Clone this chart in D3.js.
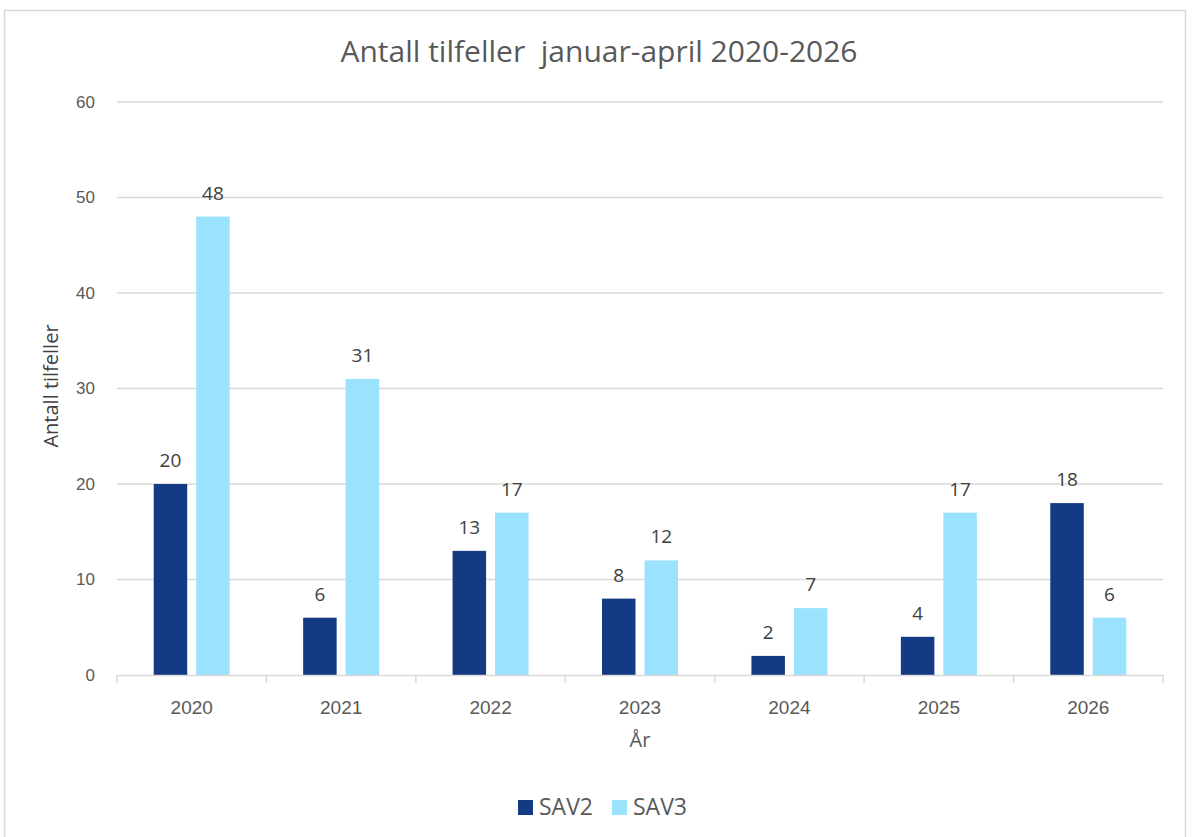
<!DOCTYPE html>
<html>
<head>
<meta charset="utf-8">
<script src="https://cdn.jsdelivr.net/npm/d3@7.9.0/dist/d3.min.js"></script>
<style>
  html, body { margin: 0; padding: 0; background: #ffffff; }
  svg { display: block; font-family: "Segoe UI", "Open Sans", "Noto Sans", sans-serif; }
</style>
</head>
<body>
<div id="chart"></div>
<script>
const years = ["2020", "2021", "2022", "2023", "2024", "2025", "2026"];
const sav2 = [20, 6, 13, 8, 2, 4, 18];
const sav3 = [48, 31, 17, 12, 7, 17, 6];
const seriesNames = ["SAV2", "SAV3"];
const yTicks = [0, 10, 20, 30, 40, 50, 60];

const colors = { SAV2: "#153a84", SAV3: "#9be2fe" };
const width = 1192, height = 837;
const margin = { top: 102, right: 29, bottom: 162, left: 117 };
const innerW = width - margin.left - margin.right;
const innerH = height - margin.top - margin.bottom;

const rows = years.map((y, i) => ({ year: y, SAV2: sav2[i], SAV3: sav3[i] }));

const svg = d3.select("#chart")
  .append("svg")
  .attr("width", width)
  .attr("height", height);

// outer frame
svg.append("rect")
  .attr("x", 4.5).attr("y", 10.5)
  .attr("width", 1181).attr("height", 840)
  .attr("fill", "#fff")
  .attr("stroke", "#d9d9d9")
  .attr("stroke-width", 1.5);

svg.append("text")
  .attr("x", 599).attr("y", 62)
  .attr("text-anchor", "middle")
  .attr("font-size", 30)
  .attr("fill", "#595959")
  .style("white-space", "pre")
  .text("Antall tilfeller  januar-april 2020-2026");

const g = svg.append("g").attr("transform", `translate(${margin.left},${margin.top})`);

const x = d3.scaleBand().domain(years).range([0, innerW]);
const y = d3.scaleLinear().domain([0, 60]).range([innerH, 0]);

// gridlines
g.append("g")
  .selectAll("line")
  .data(yTicks.filter(d => d > 0))
  .join("line")
  .attr("x1", 0).attr("x2", innerW)
  .attr("y1", d => y(d)).attr("y2", d => y(d))
  .attr("stroke", "#d9d9d9")
  .attr("stroke-width", 1.3);

// y axis labels
const yAxis = g.append("g")
  .call(d3.axisLeft(y).tickValues(yTicks).tickSize(0).tickPadding(22));
yAxis.select(".domain").remove();
yAxis.selectAll("text").attr("font-size", 17).attr("fill", "#595959").attr("font-family", null);

// bars
const barW = 33.5, gap = 9;
const series = seriesNames.map((name, si) => ({ name, si }));

const groups = g.append("g")
  .selectAll("g")
  .data(rows)
  .join("g")
  .attr("transform", d => `translate(${x(d.year) + x.bandwidth() / 2},0)`);

series.forEach(s => {
  const off = s.si === 0 ? -gap / 2 - barW : gap / 2;
  groups.append("rect")
    .attr("x", off)
    .attr("width", barW)
    .attr("y", d => y(d[s.name]))
    .attr("height", d => innerH - y(d[s.name]))
    .attr("fill", colors[s.name]);
  groups.append("text")
    .attr("x", off + barW / 2)
    .attr("y", d => y(d[s.name]) - 17)
    .attr("text-anchor", "middle")
    .attr("font-size", 19)
    .attr("fill", "#404040")
    .text(d => d[s.name]);
});

// x axis
const xAxis = g.append("g")
  .attr("transform", `translate(0,${innerH})`)
  .call(d3.axisBottom(x).tickSize(0).tickPadding(26));
xAxis.select(".domain").attr("stroke", "#d9d9d9").attr("stroke-width", 1.5);
xAxis.selectAll("text").attr("font-size", 19).attr("fill", "#595959").attr("font-family", null);

g.append("g")
  .selectAll("line")
  .data(d3.range(years.length + 1))
  .join("line")
  .attr("x1", i => i * x.bandwidth()).attr("x2", i => i * x.bandwidth())
  .attr("y1", innerH).attr("y2", innerH + 8)
  .attr("stroke", "#d9d9d9")
  .attr("stroke-width", 1.5);

// axis titles
svg.append("text")
  .attr("transform", "translate(58,386) rotate(-90)")
  .attr("text-anchor", "middle")
  .attr("font-size", 20)
  .attr("fill", "#404040")
  .text("Antall tilfeller");

svg.append("text")
  .attr("x", 640).attr("y", 747)
  .attr("text-anchor", "middle")
  .attr("font-size", 20)
  .attr("fill", "#595959")
  .text("År");

// legend
const legend = svg.append("g").attr("transform", "translate(518,800)");
const legendX = [0, 94];
seriesNames.forEach((name, i) => {
  legend.append("rect")
    .attr("x", legendX[i]).attr("y", 0)
    .attr("width", 15).attr("height", 15)
    .attr("fill", colors[name]);
  legend.append("text")
    .attr("x", legendX[i] + 21).attr("y", 15)
    .attr("font-size", 23)
    .attr("fill", "#595959")
    .text(name);
});
</script>
</body>
</html>
